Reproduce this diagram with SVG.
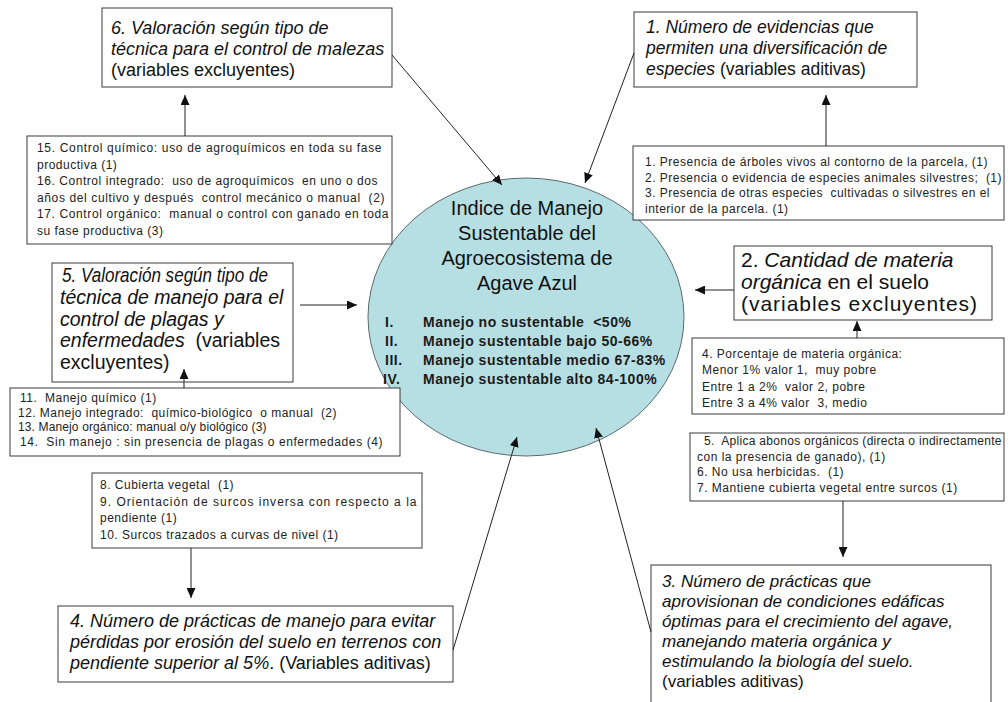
<svg xmlns="http://www.w3.org/2000/svg" width="1008" height="702" viewBox="0 0 1008 702">
<defs>
<marker id="ah" viewBox="0 0 10 9" refX="10" refY="4.5" markerUnits="userSpaceOnUse" markerWidth="10" markerHeight="9" orient="auto">
<path d="M0,0 L10,4.5 L0,9 z" fill="#111"/>
</marker>
<style>
.box{fill:#fff;stroke:#3a3a3a;stroke-width:1}
.t{font-family:"Liberation Sans",Arial,sans-serif;fill:#111;white-space:pre}
.it{font-style:italic}
.sm{font-family:"Liberation Sans",Arial,sans-serif;font-size:12px;letter-spacing:0.5px;fill:#222;white-space:pre}
.conn{stroke:#222;stroke-width:1;fill:none;marker-end:url(#ah)}
.title{font-family:"Liberation Sans",Arial,sans-serif;font-size:20px;fill:#111;text-anchor:middle}
.lst{font-family:"Liberation Sans",Arial,sans-serif;font-size:14px;font-weight:bold;letter-spacing:0.5px;fill:#1a1a1a;white-space:pre}
</style>
</defs>
<rect width="1008" height="702" fill="#fff"/>

<g id="node-center">
<ellipse cx="526" cy="317" rx="158" ry="139" fill="#b6dfe3" stroke="#5a6a6c" stroke-width="1"/>
<text class="title" x="527" y="215">Indice de Manejo</text>
<text class="title" x="527" y="240">Sustentable del</text>
<text class="title" x="527" y="265">Agroecosistema de</text>
<text class="title" x="527" y="290">Agave Azul</text>
<text class="lst" x="385" y="327">I.</text><text class="lst" x="423" y="327">Manejo no sustentable  &lt;50%</text>
<text class="lst" x="385" y="346">II.</text><text class="lst" x="423" y="346">Manejo sustentable bajo 50-66%</text>
<text class="lst" x="385" y="365">III.</text><text class="lst" x="423" y="365">Manejo sustentable medio 67-83%</text>
<text class="lst" x="383" y="384">IV.</text><text class="lst" x="423" y="384">Manejo sustentable alto 84-100%</text>
</g>

<g id="node-6">
<rect class="box" x="102" y="8" width="290" height="79"/>
<text class="t" font-size="18" x="111" y="34"><tspan class="it">6. Valoración según tipo de</tspan></text>
<text class="t" font-size="18" x="111" y="55"><tspan class="it">técnica para el control de malezas</tspan></text>
<text class="t" font-size="18" x="111" y="76">(variables excluyentes)</text>
</g>

<g id="node-1">
<rect class="box" x="634" y="12" width="283" height="75"/>
<text class="t" font-size="17.5" x="646" y="33"><tspan class="it">1. Número de evidencias que</tspan></text>
<text class="t" font-size="17.5" x="646" y="54"><tspan class="it">permiten una diversificación de</tspan></text>
<text class="t" font-size="17.5" x="646" y="75"><tspan class="it">especies</tspan> (variables aditivas)</text>
</g>

<g id="node-15-17">
<rect class="box" x="27" y="136" width="365" height="108"/>
<text class="sm" x="37" y="152" textLength="345" lengthAdjust="spacing">15. Control químico: uso de agroquímicos en toda su fase</text>
<text class="sm" x="37" y="168.5">productiva (1)</text>
<text class="sm" x="37" y="185" textLength="341" lengthAdjust="spacing">16. Control integrado:  uso de agroquímicos  en uno o dos</text>
<text class="sm" x="37" y="201.5" textLength="348" lengthAdjust="spacing">años del cultivo y después  control mecánico o manual  (2)</text>
<text class="sm" x="37" y="218" textLength="352" lengthAdjust="spacing">17. Control orgánico:  manual o control con ganado en toda</text>
<text class="sm" x="37" y="234.5">su fase productiva (3)</text>
</g>

<g id="node-1-3">
<rect class="box" x="633" y="146" width="371" height="74"/>
<text class="sm" x="645" y="166" textLength="343" lengthAdjust="spacing">1. Presencia de árboles vivos al contorno de la parcela, (1)</text>
<text class="sm" x="645" y="181.5" textLength="357" lengthAdjust="spacing">2. Presencia o evidencia de especies animales silvestres;  (1)</text>
<text class="sm" x="645" y="197" textLength="345" lengthAdjust="spacing">3. Presencia de otras especies  cultivadas o silvestres en el</text>
<text class="sm" x="645" y="212.5">interior de la parcela. (1)</text>
</g>

<g id="node-2">
<rect class="box" x="734" y="246" width="258" height="74"/>
<text class="t" font-size="21" x="741" y="267">2. <tspan class="it">Cantidad de materia</tspan></text>
<text class="t" font-size="21" x="741" y="289"><tspan class="it">orgánica</tspan> en el suelo</text>
<text class="t" font-size="21" x="741" y="311" textLength="236" lengthAdjust="spacing">(variables excluyentes)</text>
</g>

<g id="node-4pct">
<rect class="box" x="692" y="338" width="312" height="76"/>
<text class="sm" x="702" y="358">4. Porcentaje de materia orgánica:</text>
<text class="sm" x="702" y="374">Menor 1% valor 1,  muy pobre</text>
<text class="sm" x="702" y="391">Entre 1 a 2%  valor 2, pobre</text>
<text class="sm" x="702" y="407">Entre 3 a 4% valor  3, medio</text>
</g>

<g id="node-5-7">
<rect class="box" x="690" y="433" width="314" height="68"/>
<text class="sm" x="704" y="445" textLength="298" lengthAdjust="spacing">5.  Aplica abonos orgánicos (directa o indirectamente</text>
<text class="sm" x="697" y="460.5">con la presencia de ganado), (1)</text>
<text class="sm" x="697" y="476">6. No usa herbicidas.  (1)</text>
<text class="sm" x="697" y="491.5">7. Mantiene cubierta vegetal entre surcos (1)</text>
</g>

<g id="node-5">
<rect class="box" x="52" y="263" width="241" height="119"/>
<text class="t" font-size="19.5" x="62" y="282" textLength="206" lengthAdjust="spacingAndGlyphs"><tspan class="it">5. Valoración según tipo de</tspan></text>
<text class="t" font-size="19.5" x="60" y="304"><tspan class="it">técnica de manejo para el</tspan></text>
<text class="t" font-size="19.5" x="60" y="325.5"><tspan class="it">control de plagas y</tspan></text>
<text class="t" font-size="19.5" x="60" y="347"><tspan class="it">enfermedades</tspan>  (variables</text>
<text class="t" font-size="19.5" x="60" y="369">excluyentes)</text>
</g>

<g id="node-11-14">
<rect class="box" x="10" y="388" width="390" height="68"/>
<text class="sm" x="20" y="402">11.  Manejo químico (1)</text>
<text class="sm" x="18" y="416.5" textLength="319" lengthAdjust="spacing">12. Manejo integrado:  químico-biológico  o manual  (2)</text>
<text class="sm" x="18" y="431" textLength="249" lengthAdjust="spacing">13. Manejo orgánico: manual o/y biológico (3)</text>
<text class="sm" x="20" y="445.5" textLength="363" lengthAdjust="spacing">14.  Sin manejo : sin presencia de plagas o enfermedades (4)</text>
</g>

<g id="node-8-10">
<rect class="box" x="92" y="473" width="330" height="75"/>
<text class="sm" font-size="13" x="100" y="489">8. Cubierta vegetal  (1)</text>
<text class="sm" font-size="13" x="100" y="506" textLength="317" lengthAdjust="spacing">9. Orientación de surcos inversa con respecto a la</text>
<text class="sm" font-size="13" x="100" y="522">pendiente (1)</text>
<text class="sm" font-size="13" x="100" y="539">10. Surcos trazados a curvas de nivel (1)</text>
</g>

<g id="node-4">
<rect class="box" x="58" y="606" width="395" height="76"/>
<text class="t" font-size="18" x="70" y="627"><tspan class="it">4. Número de prácticas de manejo para evitar</tspan></text>
<text class="t" font-size="18" x="70" y="648"><tspan class="it">pérdidas por erosión del suelo en terrenos con</tspan></text>
<text class="t" font-size="18" x="70" y="669"><tspan class="it">pendiente superior al 5%</tspan>. (Variables aditivas)</text>
</g>

<g id="node-3">
<rect class="box" x="651" y="565" width="340" height="150"/>
<text class="t" font-size="17" x="662" y="587"><tspan class="it">3. Número de prácticas que</tspan></text>
<text class="t" font-size="17" x="662" y="607"><tspan class="it">aprovisionan de condiciones edáficas</tspan></text>
<text class="t" font-size="17" x="662" y="627"><tspan class="it">óptimas para el crecimiento del agave,</tspan></text>
<text class="t" font-size="17" x="662" y="647"><tspan class="it">manejando materia orgánica y</tspan></text>
<text class="t" font-size="17" x="662" y="667"><tspan class="it">estimulando la biología del suelo.</tspan></text>
<text class="t" font-size="17" x="662" y="687">(variables aditivas)</text>
</g>

<g id="connectors">
<line class="conn" x1="392" y1="55" x2="502" y2="185"/>
<line class="conn" x1="634" y1="53" x2="585" y2="183"/>
<line class="conn" x1="185" y1="136" x2="185" y2="95"/>
<line class="conn" x1="826" y1="146" x2="826" y2="95"/>
<line class="conn" x1="734" y1="290" x2="695" y2="290"/>
<line class="conn" x1="857" y1="338" x2="857" y2="321"/>
<line class="conn" x1="300" y1="305" x2="357" y2="305"/>
<line class="conn" x1="184" y1="388" x2="184" y2="369"/>
<line class="conn" x1="191" y1="548" x2="191" y2="598"/>
<line class="conn" x1="453" y1="650" x2="517" y2="437"/>
<line class="conn" x1="651" y1="632" x2="596" y2="428"/>
<line class="conn" x1="843" y1="501" x2="843" y2="557"/>
</g>
</svg>
